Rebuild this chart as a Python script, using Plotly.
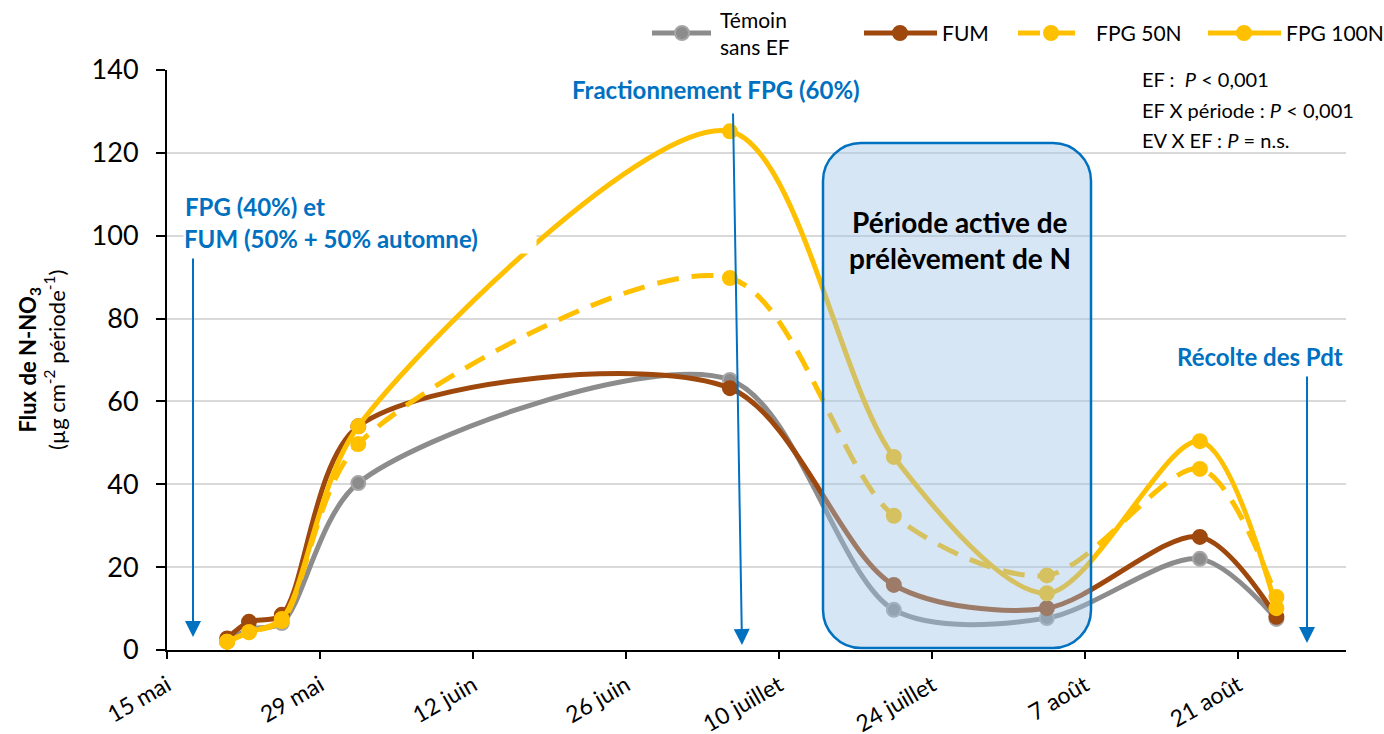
import pandas as pd
import plotly.graph_objects as go

# Sampling dates and nitrate fluxes (µg N-NO3 cm-2 per period)
dates = ["2019-05-20", "2019-05-22", "2019-05-25", "2019-06-01", "2019-07-05",
         "2019-07-20", "2019-08-03", "2019-08-17", "2019-08-24"]
temoin = [2.0, 5.0, 6.5, 40.3, 65.2, 9.7, 7.7, 22.0, 7.5]
fum = [2.8, 6.8, 8.5, 54.0, 63.2, 15.7, 10.1, 27.3, 8.0]
fpg50 = [2.0, 4.3, 7.0, 49.7, 89.8, 32.4, 18.0, 43.7, 12.8]
fpg100 = [2.0, 4.3, 7.5, 54.0, 125.2, 46.6, 13.7, 50.4, 10.1]

series_names = ["Témoin<br>sans EF", "FUM", "FPG 50N", "FPG 100N"]
series_colors = ["#8c8c8c", "#9E480E", "#FFC000", "#FFC000"]

origin = pd.Timestamp("2019-05-15")
tick_dates = ["2019-05-15", "2019-05-29", "2019-06-12", "2019-06-26",
              "2019-07-10", "2019-07-24", "2019-08-07", "2019-08-21"]
tick_labels = ["15 mai", "29 mai", "12 juin", "26 juin",
               "10 juillet", "24 juillet", "7 août", "21 août"]

FONT = "Lato"
BLUE = "#0070C0"

# day offsets; each sample is centred within its day
x = [(pd.Timestamp(d) - origin).days + 0.5 for d in dates]
tickvals = [(pd.Timestamp(d) - origin).days for d in tick_dates]

# plot area in pixels
L, R, T, B = 167, 1346, 70, 650
W, H = R - L, B - T


def px(xp):
    return (xp - L) / W


def py(yp):
    return (B - yp) / H


fig = go.Figure()

styles = [
    dict(color=series_colors[0], width=5, dash="solid"),
    dict(color=series_colors[1], width=5, dash="solid"),
    dict(color=series_colors[2], width=5, dash="22px,13px"),
    dict(color=series_colors[3], width=5, dash="solid"),
]
marker_lines = ["#a6a6a6", series_colors[1], series_colors[2], series_colors[3]]

for vals, name, st, ml in zip([temoin, fum, fpg50, fpg100], series_names, styles, marker_lines):
    fig.add_trace(go.Scatter(
        x=x, y=vals, name=name, mode="lines+markers",
        line=dict(color=st["color"], width=st["width"], dash=st["dash"],
                  shape="spline", smoothing=0.85),
        marker=dict(size=14, color=st["color"], line=dict(color=ml, width=2)),
        showlegend=False,
    ))

shapes = []
annotations = []

# white panels hiding the gridlines behind the text blocks
shapes.append(dict(type="rect", xref="paper", yref="paper", layer="below",
                   x0=px(1125), x1=px(1384), y0=py(160), y1=py(56),
                   fillcolor="white", line=dict(width=0)))
shapes.append(dict(type="rect", xref="paper", yref="paper", layer="below",
                   x0=px(168), x1=px(535), y0=py(252), y1=py(185),
                   fillcolor="white", line=dict(width=0)))

# active N uptake period (rounded box)
x0, x1, y0, y1 = px(823), px(1091), py(648), py(143)
rx, ry = 38 / W, 38 / H
k = 0.448
path = (f"M{x0+rx},{y1} L{x1-rx},{y1} "
        f"C{x1-rx*k},{y1} {x1},{y1-ry*k} {x1},{y1-ry} "
        f"L{x1},{y0+ry} C{x1},{y0+ry*k} {x1-rx*k},{y0} {x1-rx},{y0} "
        f"L{x0+rx},{y0} C{x0+rx*k},{y0} {x0},{y0+ry*k} {x0},{y0+ry} "
        f"L{x0},{y1-ry} C{x0},{y1-ry*k} {x0+rx*k},{y1} {x0+rx},{y1} Z")
shapes.append(dict(type="path", xref="paper", yref="paper", layer="above", path=path,
                   fillcolor="rgba(157,195,230,0.42)", line=dict(color=BLUE, width=2.5)))

# manual legend
legend_items = [
    (652, 711, 682, 718),
    (864, 937, 900, 940),
    (1018, 1084, 1051, 1094),
    (1208, 1281, 1244, 1284),
]
ly = 33
for (xa, xb, xm, xt), name, st, ml in zip(legend_items, series_names, styles, marker_lines):
    shapes.append(dict(type="line", xref="paper", yref="paper",
                       x0=px(xa), x1=px(xb), y0=py(ly), y1=py(ly),
                       line=dict(color=st["color"], width=5, dash=st["dash"])))
    shapes.append(dict(type="circle", xref="paper", yref="paper",
                       xsizemode="pixel", ysizemode="pixel",
                       xanchor=px(xm), yanchor=py(ly), x0=-7, x1=7, y0=-7, y1=7,
                       fillcolor=st["color"], line=dict(color=ml, width=2)))
    annotations.append(dict(xref="paper", yref="paper", x=px(xt), y=py(ly),
                            xanchor="left", yanchor="middle", align="left",
                            text=name, showarrow=False,
                            font=dict(family=FONT, size=21, color="black")))

# statistics
for yy, txt in [(79, "EF :  <i>P</i> < 0,001"),
                (110, "EF X période : <i>P</i> < 0,001"),
                (140, "EV X EF : <i>P</i> = n.s.")]:
    annotations.append(dict(xref="paper", yref="paper", x=px(1140), y=py(yy),
                            xanchor="left", yanchor="middle", text=txt, showarrow=False,
                            font=dict(family=FONT, size=20, color="black")))

# fertiliser application notes
annotations.append(dict(xref="paper", yref="paper", x=px(183), y=py(207),
                        xanchor="left", yanchor="middle", text="<b>FPG (40%) et</b>",
                        showarrow=False, font=dict(family=FONT, size=24, color=BLUE)))
annotations.append(dict(xref="paper", yref="paper", x=px(183), y=py(236),
                        xanchor="left", yanchor="middle", align="left", width=352,
                        height=34, valign="bottom", borderpad=0,
                        text="<b>FUM (50% + 50% automne)</b>", bgcolor="white",
                        showarrow=False, font=dict(family=FONT, size=24, color=BLUE)))
annotations.append(dict(xref="paper", yref="paper", x=px(716), y=py(90),
                        xanchor="center", yanchor="middle",
                        text="<b>Fractionnement FPG (60%)</b>",
                        showarrow=False, font=dict(family=FONT, size=24, color=BLUE)))
annotations.append(dict(xref="paper", yref="paper", x=px(1260), y=py(356),
                        xanchor="center", yanchor="middle", text="<b>Récolte des Pdt</b>",
                        showarrow=False, font=dict(family=FONT, size=24, color=BLUE)))

# arrows (tail offset given in pixels from the head)
for (xt, yt, xh, yh) in [(193, 257, 193, 637), (733, 112, 742, 645), (1307, 375, 1307, 643)]:
    annotations.append(dict(xref="paper", yref="paper", axref="pixel", ayref="pixel",
                            x=px(xh), y=py(yh), ax=xt - xh, ay=yt - yh, text="",
                            showarrow=True, arrowhead=2, arrowsize=1.6, arrowwidth=2,
                            arrowcolor=BLUE, standoff=0))

# label inside the uptake period box
for yy, txt in [(222, "<b>Période active de</b>"), (258, "<b>prélèvement de N</b>")]:
    annotations.append(dict(xref="paper", yref="paper", x=px(960), y=py(yy),
                            xanchor="center", yanchor="middle", text=txt, showarrow=False,
                            font=dict(family=FONT, size=28, color="black")))

# y-axis title
annotations.append(dict(xref="paper", yref="paper", x=px(42), y=0.5,
                        xanchor="center", yanchor="middle", textangle=-90,
                        text="<b>Flux de N-NO<sub>3</sub></b><br>(µg cm<sup>-2</sup> période<sup>-1</sup>)",
                        showarrow=False, font=dict(family=FONT, size=22, color="black")))

fig.update_layout(
    width=1384, height=734,
    margin=dict(l=L, r=1384 - R, t=T, b=734 - B),
    paper_bgcolor="white", plot_bgcolor="white",
    font=dict(family=FONT, color="black"),
    shapes=shapes, annotations=annotations,
    showlegend=False,
)
fig.update_xaxes(
    range=[0, (R - L) / 10.93], tickvals=tickvals, ticktext=tick_labels,
    tickangle=-30, tickfont=dict(family=FONT, size=23), ticklabelstandoff=4,
    showline=True, linecolor="black", linewidth=2,
    ticks="outside", ticklen=7, tickwidth=2, tickcolor="black",
    showgrid=False, zeroline=False, automargin=False,
)
fig.update_yaxes(
    range=[0, 140], dtick=20, tickfont=dict(family=FONT, size=27), ticklabelstandoff=12,
    showline=True, linecolor="black", linewidth=2,
    ticks="outside", ticklen=9, tickwidth=2, tickcolor="black",
    showgrid=True, gridcolor="#d9d9d9", gridwidth=1.5, zeroline=False, automargin=False,
)

fig.write_html("out.html")
